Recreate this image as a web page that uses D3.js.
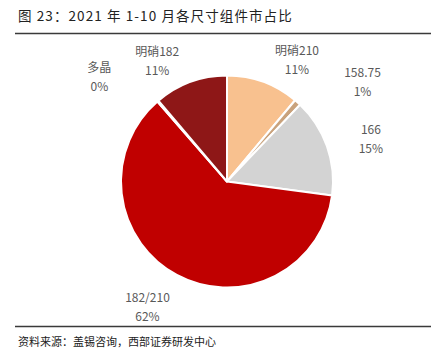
<!DOCTYPE html>
<html>
<head>
<meta charset="utf-8">
<script src="https://cdn.jsdelivr.net/npm/d3@7"></script>
<style>
  body { margin: 0; background: #fff; }
  text { font-family: "Noto Sans CJK SC", "Noto Sans", sans-serif; }
</style>
</head>
<body>
<div class="svg-wrapper"></div>
<script>
// data
var categories = ["明硝210", "158.75", "166", "182/210", "多晶", "明硝182"];
var shares     = [11.1, 1.0, 15.0, 61.5, 0.2, 11.2];
var pctLabels  = ["11%", "1%", "15%", "62%", "0%", "11%"];
var colors     = ["#F8C18F", "#C9A27C", "#D3D3D3", "#C00000", "#C00000", "#8E1717"];

// label placement (angle nudge in degrees, radius)
var labelNudge  = [10, 12, 3, 4, -10, -10];
var labelRadius = [140, 168, 150, 149, 165, 139];

var W = 441, H = 362,
    cx = 227, cy = 181.5, R = 106;

var svg = d3.select(".svg-wrapper").append("svg")
  .attr("width", W)
  .attr("height", H);

// title + rules
svg.append("text")
  .attr("x", 18).attr("y", 21)
  .attr("font-size", 13.5)
  .attr("letter-spacing", 1.1)
  .attr("fill", "#222")
  .text("图 23：2021 年 1-10 月各尺寸组件市占比");

svg.append("line")
  .attr("x1", 15).attr("x2", 431)
  .attr("y1", 33.5).attr("y2", 33.5)
  .attr("stroke", "#3a3a3a").attr("stroke-width", 1.5);

svg.append("line")
  .attr("x1", 15).attr("x2", 431)
  .attr("y1", 326.5).attr("y2", 326.5)
  .attr("stroke", "#3a3a3a").attr("stroke-width", 1.5);

svg.append("text")
  .attr("x", 18).attr("y", 346)
  .attr("font-size", 11)
  .attr("fill", "#222")
  .text("资料来源：盖锡咨询，西部证券研发中心");

var data = categories.map(function(c, i) {
  return { name: c, value: shares[i], pct: pctLabels[i], color: colors[i], i: i };
});

var pie = d3.pie()
  .sort(null)
  .value(function(d) { return d.value; });

var arc = d3.arc()
  .innerRadius(0)
  .outerRadius(R);

var g = svg.append("g")
  .attr("transform", "translate(" + cx + "," + cy + ")");

var arcs = pie(data);

g.selectAll(".slice")
  .data(arcs)
  .enter().append("path")
    .attr("class", "slice")
    .attr("d", arc)
    .attr("fill", function(d) { return d.data.color; })
    .attr("stroke", "#fff")
    .attr("stroke-width", 2)
    .attr("stroke-linejoin", "round");

var labels = g.selectAll(".lbl")
  .data(arcs)
  .enter().append("g")
    .attr("class", "lbl")
    .attr("transform", function(d) {
      var a = (d.startAngle + d.endAngle) / 2 + labelNudge[d.data.i] * Math.PI / 180;
      var r = labelRadius[d.data.i];
      return "translate(" + (r * Math.sin(a)) + "," + (-r * Math.cos(a)) + ")";
    });

labels.append("text")
  .attr("text-anchor", "middle")
  .attr("y", -5)
  .attr("font-size", 12)
  .attr("fill", "#595959")
  .text(function(d) { return d.data.name; });

labels.append("text")
  .attr("text-anchor", "middle")
  .attr("y", 14)
  .attr("font-size", 12)
  .attr("fill", "#595959")
  .text(function(d) { return d.data.pct; });
</script>
</body>
</html>
